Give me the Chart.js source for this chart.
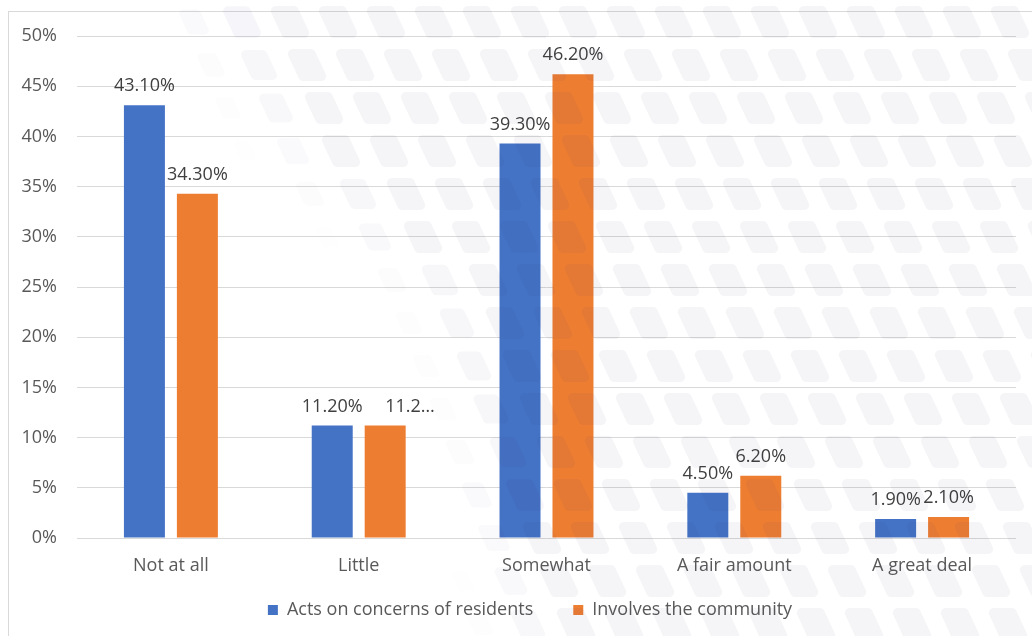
<!DOCTYPE html>
<html>
<head>
<meta charset="utf-8">
<script src="https://cdn.jsdelivr.net/npm/chart.js@4"></script>
<style>
html,body{margin:0;padding:0;background:#fff;}
#wrap{position:relative;width:1032px;height:636px;overflow:hidden;}
#frame{position:absolute;left:8px;top:11px;width:1040px;height:640px;border:1px solid #d9d9d9;box-sizing:border-box;}
canvas{position:absolute;left:0;top:0;}
</style>
</head>
<body>
<div id="wrap">
<div id="frame"></div>
<canvas id="c" width="1032" height="636"></canvas>
</div>
<script>
const categories = ["Not at all", "Little", "Somewhat", "A fair amount", "A great deal"];
const actsOnConcerns = [43.1, 11.2, 39.3, 4.5, 1.9];
const involvesCommunity = [34.3, 11.2, 46.2, 6.2, 2.1];
const actsLabels = ["43.10%", "11.20%", "39.30%", "4.50%", "1.90%"];
const involvesLabels = ["34.30%", "11.2\u2026", "46.20%", "6.20%", "2.10%"];
const seriesNames = ["Acts on concerns of residents", "Involves the community"];
const yTicks = [0, 5, 10, 15, 20, 25, 30, 35, 40, 45, 50];

const FONT = "'Open Sans', sans-serif";
const TEXT = "#595959";

const barLabels = {
  id: 'barLabels',
  afterDatasetsDraw(chart) {
    const ctx = chart.ctx;
    const lbls = [actsLabels, involvesLabels];
    ctx.save();
    ctx.font = "18px " + FONT;
    ctx.fillStyle = "#404040";
    ctx.textBaseline = "middle";
    chart.data.datasets.forEach((ds, di) => {
      chart.getDatasetMeta(di).data.forEach((bar, i) => {
        const t = lbls[di][i];
        // truncated labels start at the bar centre, like the original
        ctx.textAlign = t.endsWith("\u2026") ? "left" : "center";
        ctx.fillText(t, bar.x, bar.y - 19);
      });
    });
    ctx.restore();
  }
};

// legend: keep wide horizontal spacing but compact vertical box, nudge into place
const legendTweak = {
  id: 'legendTweak',
  beforeLayout(chart) {
    const lg = chart.legend;
    if (lg && !lg._tweaked) {
      const orig = lg.fit.bind(lg);
      lg.fit = function () { orig(); this.height = 41; };
      lg._tweaked = true;
    }
  },
  afterLayout(chart) {
    const lg = chart.legend;
    if (!lg) return;
    lg.top -= 27;
    lg.bottom = chart.height;
    lg.height = lg.bottom - lg.top;
    lg.left += 44;
    if (lg.adjustHitBoxes) lg.adjustHitBoxes();
  }
};

// decorative background watermark (not data)
const watermark = {
  id: 'watermark',
  afterDraw(chart) {
    const ctx = chart.ctx;
    const edge = [[0, 150], [150, 250], [300, 390], [400, 430], [640, 475]];
    const boundary = y => {
      for (let i = 1; i < edge.length; i++) {
        if (y <= edge[i][0]) {
          const t = (y - edge[i-1][0]) / (edge[i][0] - edge[i-1][0]);
          return edge[i-1][1] + t * (edge[i][1] - edge[i-1][1]);
        }
      }
      return edge[edge.length-1][1];
    };
    const shape = (x, y, k) => {
      const w = 29 * k, s = 15 * k, h = 32 * k, r = 5 * k;
      const p = [[x, y], [x + w, y], [x + w + s, y + h], [x + s, y + h]];
      ctx.beginPath();
      ctx.moveTo((p[3][0] + p[0][0]) / 2, (p[3][1] + p[0][1]) / 2);
      for (let i = 0; i < 4; i++) {
        const a = p[i], b = p[(i + 1) % 4];
        ctx.arcTo(a[0], a[1], b[0], b[1], r);
      }
      ctx.closePath();
      ctx.fill();
    };
    ctx.save();
    for (let row = -1; row < 16; row++) {
      const y0 = row * 43 + 6;
      const off = ((row * 17) % 48 + 48) % 48;
      for (let col = -1; col < 24; col++) {
        const x0 = col * 48 + off - 20;
        const cx = x0 + 22, cy = y0 + 16;
        const d = cx - boundary(cy);
        if (d < -10) continue;
        const f = Math.min(1, (d + 10) / 90);
        ctx.fillStyle = 'rgba(60,50,120,' + (0.05 * f).toFixed(4) + ')';
        const k = 0.6 + 0.4 * f;
        shape(x0 + (1 - k) * 22, y0 + (1 - k) * 16, k);
      }
    }
    ctx.restore();
  }
};

new Chart(document.getElementById('c'), {
  type: 'bar',
  data: {
    labels: categories,
    datasets: [
      { label: seriesNames[0], data: actsOnConcerns, backgroundColor: "#4472C4", barPercentage: 0.774, categoryPercentage: 0.564 },
      { label: seriesNames[1], data: involvesCommunity, backgroundColor: "#ED7D31", barPercentage: 0.774, categoryPercentage: 0.564 }
    ]
  },
  options: {
    responsive: false,
    animation: false,
    layout: { padding: { top: 36, right: 16, bottom: 7, left: 0 } },
    plugins: {
      legend: {
        position: 'bottom',
        labels: { color: TEXT, font: { family: FONT, size: 18 }, boxWidth: 10, boxHeight: 10, padding: 40 }
      },
      tooltip: { enabled: false }
    },
    scales: {
      x: {
        grid: { display: false },
        border: { display: false },
        ticks: { color: TEXT, font: { family: FONT, size: 18 }, padding: 9 },
        afterFit(s) { s.height = 50; }
      },
      y: {
        min: 0, max: 50,
        afterBuildTicks(s) { s.ticks = yTicks.map(v => ({ value: v })); },
        grid: { color: "#d9d9d9", lineWidth: 1, drawTicks: false },
        border: { display: false },
        ticks: { color: TEXT, font: { family: FONT, size: 18 }, padding: 20, callback: v => v + "%" },
        afterFit(s) { s.width = 77; }
      }
    }
  },
  plugins: [legendTweak, barLabels, watermark]
});
</script>
</body>
</html>
